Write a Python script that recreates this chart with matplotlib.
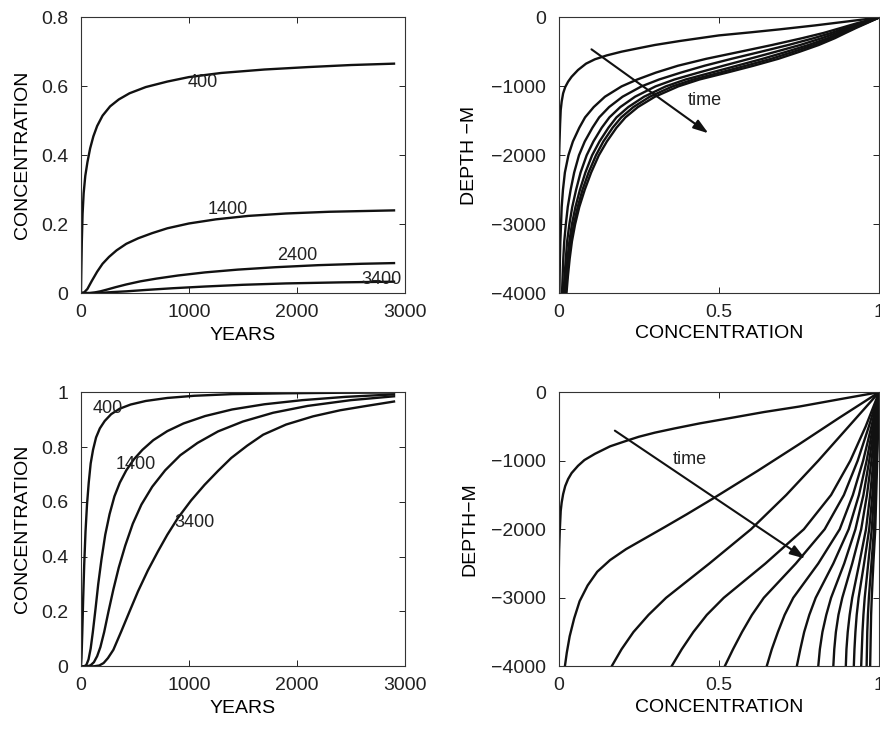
#!/usr/bin/env python3
# -*- coding: utf-8 -*-
#
# plot.py: Concentration vs time at fixed depths, and depth profiles
# for the two model runs (top: bounded, bottom: advective)

import matplotlib.pyplot as plt
from matplotlib.ticker import FormatStrFormatter

plt.rcParams["font.family"] = ["Liberation Sans", "DejaVu Sans"]

# ---- Top left: concentration vs years at depths 400/1400/2400/3400 m ----
TL_T400 = [0, 3, 8, 15, 25, 40, 60, 85, 115, 150, 200, 270, 350, 450, 600,
           800, 1000, 1300, 1700, 2100, 2500, 2900]
TL_C400 = [0, 0.06, 0.15, 0.23, 0.29, 0.34, 0.38, 0.42, 0.455, 0.485, 0.515,
           0.542, 0.562, 0.58, 0.598, 0.614, 0.627, 0.639, 0.649, 0.656,
           0.662, 0.666]
TL_T1400 = [0, 30, 60, 100, 150, 200, 260, 330, 420, 530, 660, 800, 1000,
            1250, 1550, 1900, 2300, 2900]
TL_C1400 = [0, 0.002, 0.012, 0.035, 0.062, 0.085, 0.105, 0.124, 0.143,
            0.159, 0.174, 0.188, 0.202, 0.214, 0.224, 0.231, 0.236, 0.240]
TL_T2400 = [0, 80, 130, 180, 240, 320, 420, 550, 700, 900, 1150, 1450, 1800,
            2200, 2600, 2900]
TL_C2400 = [0, 0, 0.002, 0.005, 0.010, 0.017, 0.025, 0.034, 0.042, 0.051,
            0.060, 0.068, 0.075, 0.081, 0.085, 0.087]
TL_T3400 = [0, 120, 200, 300, 420, 600, 850, 1150, 1500, 1900, 2400, 2900]
TL_C3400 = [0, 0, 0.001, 0.003, 0.005, 0.009, 0.014, 0.019, 0.024, 0.028,
            0.031, 0.033]

# ---- Bottom left ----
BL_T400 = [0, 5, 12, 20, 30, 42, 56, 72, 90, 112, 140, 175, 220, 280, 360,
           460, 600, 800, 1050, 1400, 1900, 2400, 2900]
BL_C400 = [0, 0.03, 0.12, 0.24, 0.37, 0.49, 0.59, 0.67, 0.74, 0.79, 0.835,
           0.868, 0.895, 0.92, 0.94, 0.955, 0.968, 0.979, 0.987, 0.993,
           0.996, 0.998, 0.999]
BL_T1400 = [0, 30, 50, 70, 90, 110, 135, 160, 190, 225, 265, 310, 360, 420,
            490, 570, 670, 800, 950, 1150, 1400, 1700, 2050, 2450, 2900]
BL_C1400 = [0, 0, 0.005, 0.025, 0.065, 0.125, 0.21, 0.30, 0.39, 0.48, 0.555,
            0.62, 0.67, 0.715, 0.755, 0.79, 0.825, 0.858, 0.886, 0.913,
            0.937, 0.956, 0.971, 0.983, 0.992]
BL_T2400 = [0, 60, 90, 120, 150, 180, 215, 255, 300, 350, 410, 480, 560, 660,
            780, 920, 1080, 1270, 1500, 1780, 2100, 2500, 2900]
BL_C2400 = [0, 0, 0.004, 0.015, 0.037, 0.07, 0.125, 0.2, 0.28, 0.36, 0.44,
            0.52, 0.59, 0.655, 0.715, 0.77, 0.815, 0.857, 0.893, 0.925, 0.95,
            0.971, 0.985]
BL_T3400 = [0, 120, 170, 210, 250, 300, 373, 450, 528, 620, 713, 800, 898,
            1020, 1145, 1270, 1392, 1540, 1688, 1900, 2151, 2400, 2614, 2900]
BL_C3400 = [0, 0, 0.003, 0.012, 0.03, 0.06, 0.127, 0.2, 0.273, 0.35, 0.419,
            0.48, 0.541, 0.605, 0.662, 0.713, 0.76, 0.805, 0.845, 0.882,
            0.912, 0.934, 0.948, 0.966]

# ---- Top right: depth profiles ----
TR_C1 = [1.0, 0.9, 0.8, 0.69, 0.6, 0.5, 0.378, 0.30, 0.25, 0.196, 0.15,
         0.1125, 0.085, 0.06, 0.04, 0.029, 0.02, 0.0135, 0.009, 0.006, 0.004,
         0.002, 0.0, 0.0]
TR_D1 = [0, -58, -115, -172, -215, -260, -341, -399, -445, -496, -550, -607,
         -670, -762, -860, -932, -1010, -1101, -1220, -1343, -1550, -1827,
         -2200, -4000]
TR_DEPTH = [0, -75, -150, -225, -300, -400, -500, -600, -700, -800, -900,
            -1000, -1150, -1300, -1450, -1600, -1800, -2000, -2250, -2500,
            -2750, -3000, -3250, -3500, -3750, -4000]
TR_PROFILES = [
    [1.0, 0.937, 0.882, 0.826, 0.76, 0.665, 0.563, 0.46, 0.372, 0.303, 0.245,
     0.196, 0.144, 0.109, 0.082, 0.064, 0.044, 0.030, 0.019, 0.013, 0.009,
     0.007, 0.0048, 0.0035, 0.0026, 0.002],
    [1.0, 0.947, 0.898, 0.850, 0.796, 0.716, 0.628, 0.539, 0.455, 0.381,
     0.313, 0.258, 0.199, 0.157, 0.126, 0.105, 0.081, 0.063, 0.048, 0.037,
     0.028, 0.022, 0.017, 0.014, 0.012, 0.010],
    [1.0, 0.954, 0.910, 0.867, 0.821, 0.753, 0.675, 0.595, 0.514, 0.436,
     0.361, 0.302, 0.238, 0.192, 0.158, 0.134, 0.108, 0.087, 0.068, 0.054,
     0.042, 0.033, 0.026, 0.022, 0.018, 0.015],
    [1.0, 0.959, 0.919, 0.880, 0.840, 0.779, 0.709, 0.636, 0.556, 0.476,
     0.396, 0.334, 0.266, 0.217, 0.180, 0.155, 0.127, 0.104, 0.083, 0.066,
     0.052, 0.041, 0.033, 0.027, 0.023, 0.019],
    [1.0, 0.962, 0.924, 0.888, 0.852, 0.796, 0.731, 0.663, 0.584, 0.503,
     0.420, 0.355, 0.284, 0.233, 0.195, 0.168, 0.139, 0.116, 0.093, 0.074,
     0.059, 0.047, 0.037, 0.031, 0.026, 0.022],
    [1.0, 0.965, 0.929, 0.895, 0.862, 0.811, 0.75, 0.685, 0.608, 0.525,
     0.439, 0.373, 0.3, 0.247, 0.208, 0.18, 0.15, 0.125, 0.101, 0.081,
     0.064, 0.051, 0.041, 0.034, 0.0285, 0.024],
]

# ---- Bottom right: depth profiles ----
BR_C1 = [1.0, 0.88, 0.75, 0.64, 0.55, 0.44, 0.36, 0.3, 0.25, 0.217, 0.16,
         0.1125, 0.08, 0.06, 0.04, 0.029, 0.02, 0.0135, 0.009, 0.006, 0.003,
         0.001, 0.0, 0.0]
BR_D1 = [0, -100, -210, -290, -365, -455, -530, -590, -650, -700, -790,
         -900, -990, -1074, -1180, -1268, -1370, -1488, -1610, -1732, -2025,
         -2300, -2600, -4000]
BR_C2 = [1.0, 0.875, 0.75, 0.62, 0.482, 0.40, 0.33, 0.27, 0.21, 0.16, 0.12,
         0.09, 0.065, 0.048, 0.034, 0.025, 0.019]
BR_D2 = [0, -375, -760, -1150, -1550, -1780, -1970, -2130, -2290, -2450,
         -2620, -2820, -3050, -3300, -3561, -3800, -4000]
BR_DEPTH = [0, -500, -1000, -1500, -2000, -2500, -3000, -3250, -3500, -3750,
            -4000]
BR_PROFILES = [
    [1.0, 0.905, 0.81, 0.71, 0.60, 0.47, 0.335, 0.28, 0.233, 0.196, 0.165],
    [1.0, 0.958, 0.91, 0.85, 0.765, 0.645, 0.515, 0.462, 0.42, 0.384, 0.352],
    [1.0, 0.968, 0.933, 0.89, 0.83, 0.74, 0.64, 0.603, 0.572, 0.544, 0.518],
    [1.0, 0.976, 0.95, 0.918, 0.877, 0.81, 0.732, 0.705, 0.684, 0.665,
     0.649],
    [1.0, 0.981, 0.961, 0.937, 0.905, 0.857, 0.802, 0.782, 0.766, 0.754,
     0.743],
    [1.0, 0.985, 0.969, 0.951, 0.926, 0.891, 0.85, 0.835, 0.823, 0.815,
     0.81],
    [1.0, 0.988, 0.976, 0.962, 0.944, 0.916, 0.885, 0.873, 0.865, 0.86,
     0.857],
    [1.0, 0.991, 0.982, 0.972, 0.959, 0.938, 0.916, 0.908, 0.902, 0.898,
     0.896],
    [1.0, 0.993, 0.986, 0.979, 0.969, 0.953, 0.936, 0.93, 0.926, 0.923,
     0.921],
    [1.0, 0.995, 0.99, 0.984, 0.977, 0.966, 0.955, 0.951, 0.948, 0.946,
     0.944],
    [1.0, 0.996, 0.992, 0.988, 0.984, 0.976, 0.968, 0.965, 0.963, 0.962,
     0.961],
    [1.0, 0.997, 0.994, 0.991, 0.988, 0.982, 0.977, 0.975, 0.974, 0.973,
     0.972],
]

LW = 1.7
FS = 14
INK = "#111111"


def styleAxes(ax):
    """MATLAB-like box with inward ticks on all four sides"""
    ax.tick_params(direction="in", top=True, right=True, length=4,
                   width=0.7, labelsize=FS, colors="#222222")
    ax.tick_params(axis="x", pad=8)
    ax.tick_params(axis="y", pad=9)
    for sp in ax.spines.values():
        sp.set_linewidth(0.8)
        sp.set_color("#333333")


def plotTimeSeries(ax, series, ylim, yticks, labels):
    for t, c in series:
        ax.plot(t, c, color=INK, lw=LW)
    for txt, x, y in labels:
        ax.text(x, y, txt, fontsize=FS - 1, ha="center", va="center",
                color="#222222")
    ax.set_xlim(0, 3000)
    ax.set_ylim(*ylim)
    ax.set_xticks([0, 1000, 2000, 3000])
    ax.set_yticks(yticks)
    ax.yaxis.set_major_formatter(FormatStrFormatter("%g"))
    ax.set_xlabel("YEARS", fontsize=FS, labelpad=4)
    ax.set_ylabel("CONCENTRATION", fontsize=FS, labelpad=7.5)
    styleAxes(ax)


def plotProfiles(ax, curves, ylabel, arrow, text_pos):
    for c, d in curves:
        ax.plot(c, d, color=INK, lw=LW)
    ax.annotate("", xy=arrow[1], xytext=arrow[0],
                arrowprops=dict(arrowstyle="-|>,head_length=0.9,head_width=0.3",
                                color=INK, lw=1.5, shrinkA=0, shrinkB=0))
    ax.text(text_pos[0], text_pos[1], "time", fontsize=FS - 1, ha="center",
            va="center", color="#222222")
    ax.set_xlim(0, 1)
    ax.set_ylim(-4000, 0)
    ax.set_xticks([0, 0.5, 1])
    ax.set_yticks([-4000, -3000, -2000, -1000, 0])
    ax.xaxis.set_major_formatter(FormatStrFormatter("%g"))
    ax.set_xlabel("CONCENTRATION", fontsize=FS, labelpad=3)
    ax.set_ylabel(ylabel, fontsize=FS, labelpad=9.5)
    styleAxes(ax)


fig = plt.figure(figsize=(8.8, 7.29), dpi=100)

ax_tl = fig.add_axes([0.092, 0.598, 0.368, 0.378])
ax_tr = fig.add_axes([0.635, 0.598, 0.364, 0.378])
ax_bl = fig.add_axes([0.092, 0.086, 0.368, 0.376])
ax_br = fig.add_axes([0.635, 0.086, 0.364, 0.376])

plotTimeSeries(
    ax_tl,
    [(TL_T400, TL_C400), (TL_T1400, TL_C1400), (TL_T2400, TL_C2400),
     (TL_T3400, TL_C3400)],
    (0, 0.8), [0, 0.2, 0.4, 0.6, 0.8],
    [("400", 1130, 0.611), ("1400", 1358, 0.243), ("2400", 2006, 0.108),
     ("3400", 2784, 0.040)],
)

plotTimeSeries(
    ax_bl,
    [(BL_T400, BL_C400), (BL_T1400, BL_C1400), (BL_T2400, BL_C2400),
     (BL_T3400, BL_C3400)],
    (0, 1), [0, 0.2, 0.4, 0.6, 0.8, 1],
    [("400", 250, 0.94), ("1400", 512, 0.738), ("3400", 1052, 0.526)],
)

tr_curves = [(TR_C1, TR_D1)] + [(p, TR_DEPTH) for p in TR_PROFILES]
plotProfiles(ax_tr, tr_curves, "DEPTH \u2212M",
             ((0.102, -462), (0.467, -1681)), (0.456, -1198))

br_curves = [(BR_C1, BR_D1), (BR_C2, BR_D2)] + \
    [(p, BR_DEPTH) for p in BR_PROFILES]
plotProfiles(ax_br, br_curves, "DEPTH\u2212M",
             ((0.175, -561), (0.769, -2429)), (0.41, -986))

fig.savefig("out.png", dpi=100)
